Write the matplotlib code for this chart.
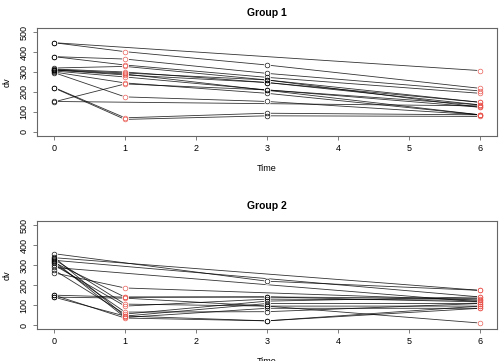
import matplotlib
matplotlib.use("Agg")
import matplotlib.pyplot as plt
import numpy as np

plt.rcParams['font.family'] = ['Liberation Sans', 'DejaVu Sans']

times = [0, 1, 3, 6]
nan = np.nan

# one row per subject: dv at time 0, 1, 3, 6 (nan = not observed)
group1 = [
    [447, nan, nan, 307],
    [447, 402, 335, 218],
    [377, 365, 293, 205],
    [377, 335, 273, 193],
    [320, 328, 260, 148],
    [315, 300, 247, 135],
    [312, 295, 260, 123],
    [310, 285, 247, 148],
    [305, 275, 210, 135],
    [300, 245, 193, 85],
    [297, 175, 152, 85],
    [222, 70, 93, 85],
    [220, 62, 80, 77],
    [152, nan, nan, 130],
    [150, 240, 210, 123],
    [310, 290, nan, 85],
]

group2 = [
    [358, nan, 220, 174],
    [338, nan, nan, 174],
    [325, nan, nan, 141],
    [314, 140, 141, 133],
    [301, 95, 130, 125],
    [289, nan, nan, 116],
    [276, 55, 120, 141],
    [262, 186, nan, 125],
    [340, 45, 108, 108],
    [330, 105, 95, 95],
    [320, 38, 84, 84],
    [310, 65, 67, 108],
    [150, 140, 141, 116],
    [140, 135, 95, 10],
    [150, 35, 21, 84],
    [140, 45, 21, 95],
]

titles = ["Group 1", "Group 2"]
point_cols = ['black', '#e8524a', 'black', '#e8524a']
box_col = '#666666'

fig = plt.figure(figsize=(5, 3.61), dpi=100)
ax1 = fig.add_axes([0.074, 0.624, 0.92, 0.298])
ax2 = fig.add_axes([0.074, 0.0886, 0.92, 0.298])

for ax, data, title in zip([ax1, ax2], [group1, group2], titles):
    for row in data:
        y = np.array(row, dtype=float)
        ok = ~np.isnan(y)
        t = np.array(times)[ok]
        ax.plot(t, y[ok], color='black', lw=0.6, alpha=0.8, zorder=1)
        # white halo so lines stop short of the points, like R type="b"
        ax.plot(t, y[ok], 'o', ms=5, mfc='white', mec='none', zorder=2)
        for ti, yi in zip(times, y):
            if not np.isnan(yi):
                ax.plot(ti, yi, 'o', ms=3.4, mfc='none',
                        mec=point_cols[times.index(ti)], mew=0.45, zorder=3)
    ax.set_xlim(-0.24, 6.24)
    ax.set_ylim(-20, 520)
    ax.set_xticks(range(7))
    ax.set_yticks(range(0, 501, 100))
    ax.set_yticklabels([str(v) for v in range(0, 501, 100)], rotation=90, va='center')
    ax.tick_params(direction='out', length=3, width=0.6, color=box_col,
                   labelsize=6.5, pad=3)
    for s in ax.spines.values():
        s.set_color(box_col)
        s.set_linewidth(0.8)
    ax.set_title(title, fontsize=7.5, fontweight='bold', pad=9)
    ax.set_xlabel("Time", fontsize=6.5, labelpad=8)
    ax.set_ylabel("dv", fontsize=6.5, labelpad=6)

fig.savefig("out.png", dpi=100)
